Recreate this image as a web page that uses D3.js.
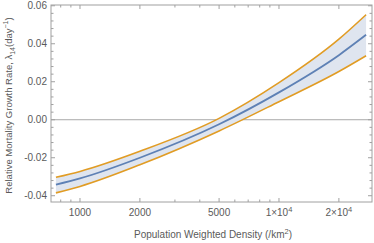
<!DOCTYPE html>
<html>
<head>
<meta charset="utf-8">
<script src="https://cdn.jsdelivr.net/npm/d3@7"></script>
<style>
body { margin: 0; background: #fff; }
text { font-family: "Liberation Sans", Arial, sans-serif; }
</style>
</head>
<body>
<div id="chart"></div>
<script>
var w = 374;
var h = 243;

// values
var density = [757, 1000, 2000, 5000, 10000, 20000, 27400];
var rateMid = [-0.0342, -0.0309, -0.0200, -0.0024, 0.0144, 0.0340, 0.0447];
var rateLow = [-0.0385, -0.0351, -0.0237, -0.0059, 0.0095, 0.0254, 0.0337];
var rateHigh = [-0.0303, -0.0272, -0.0166, 0.0007, 0.0195, 0.0424, 0.0553];

var xTicks = [1000, 2000, 5000, 10000, 20000];
var xTickLabels = ["1000", "2000", "5000", "1×10|4", "2×10|4"];
var xMinor = [800, 900, 3000, 4000, 6000, 7000, 8000, 9000];
var yTicks = [-0.04, -0.02, 0.00, 0.02, 0.04, 0.06];
var yTickLabels = ["-0.04", "-0.02", "0.00", "0.02", "0.04", "0.06"];

var pLeft = 51, pRight = 372, pTop = 5, pBottom = 202;
var frameColor = "#a0a0a0";
var textColor = "#5a5a5a";

var x = d3.scaleLog().domain([715, 29340]).range([pLeft, pRight]);
var y = d3.scaleLinear().domain([-0.0433, 0.0604]).range([pBottom, pTop]);

var svg = d3.select("#chart").append("svg")
  .attr("width", w)
  .attr("height", h);

var rows = density.map(function(d, i) {
  return { d: d, lo: rateLow[i], mid: rateMid[i], hi: rateHigh[i] };
});

// zero line
svg.append("line")
  .attr("x1", pLeft).attr("x2", pRight)
  .attr("y1", y(0)).attr("y2", y(0))
  .attr("stroke", "#a8a8a8")
  .attr("stroke-width", 1);

// band between the bounds
var area = d3.area()
  .x(function(d) { return x(d.d); })
  .y0(function(d) { return y(d.lo); })
  .y1(function(d) { return y(d.hi); })
  .curve(d3.curveMonotoneX);

svg.append("path")
  .datum(rows)
  .attr("d", area)
  .attr("fill", "#dfe5ef");

function drawLine(key, color, width) {
  var line = d3.line()
    .x(function(d) { return x(d.d); })
    .y(function(d) { return y(d[key]); })
    .curve(d3.curveMonotoneX);
  svg.append("path")
    .datum(rows)
    .attr("d", line)
    .attr("fill", "none")
    .attr("stroke", color)
    .attr("stroke-width", width);
}
drawLine("lo", "#e19c24", 1.6);
drawLine("hi", "#e19c24", 1.6);
drawLine("mid", "#5e81b5", 1.8);

// frame
svg.append("rect")
  .attr("x", pLeft).attr("y", pTop)
  .attr("width", pRight - pLeft).attr("height", pBottom - pTop)
  .attr("fill", "none")
  .attr("stroke", frameColor)
  .attr("stroke-width", 1);

// y ticks (inside, both sides)
var yMinor = d3.range(-0.04, 0.0601, 0.004).filter(function(v) {
  return Math.abs(Math.round(v / 0.02) * 0.02 - v) > 1e-6;
});
yTicks.forEach(function(v) {
  [[pLeft, 4], [pRight, -4]].forEach(function(s) {
    svg.append("line")
      .attr("x1", s[0]).attr("x2", s[0] + s[1])
      .attr("y1", y(v)).attr("y2", y(v))
      .attr("stroke", frameColor);
  });
});
yMinor.forEach(function(v) {
  [[pLeft, 2.5], [pRight, -2.5]].forEach(function(s) {
    svg.append("line")
      .attr("x1", s[0]).attr("x2", s[0] + s[1])
      .attr("y1", y(v)).attr("y2", y(v))
      .attr("stroke", frameColor);
  });
});
svg.selectAll(".ylab")
  .data(yTicks)
  .enter()
  .append("text")
  .attr("class", "ylab")
  .attr("x", pLeft - 4)
  .attr("y", function(d) { return y(d) + 3.5; })
  .attr("text-anchor", "end")
  .attr("font-size", "10px")
  .attr("fill", textColor)
  .text(function(d, i) { return yTickLabels[i]; });

// x ticks (inside, top and bottom)
xTicks.forEach(function(v) {
  [[pBottom, -4], [pTop, 4]].forEach(function(s) {
    svg.append("line")
      .attr("x1", x(v)).attr("x2", x(v))
      .attr("y1", s[0]).attr("y2", s[0] + s[1])
      .attr("stroke", frameColor);
  });
});
xMinor.forEach(function(v) {
  [[pBottom, -2.5], [pTop, 2.5]].forEach(function(s) {
    svg.append("line")
      .attr("x1", x(v)).attr("x2", x(v))
      .attr("y1", s[0]).attr("y2", s[0] + s[1])
      .attr("stroke", frameColor);
  });
});
xTicks.forEach(function(v, i) {
  var parts = xTickLabels[i].split("|");
  var t = svg.append("text")
    .attr("x", x(v))
    .attr("y", pBottom + 14)
    .attr("text-anchor", "middle")
    .attr("font-size", "10px")
    .attr("fill", textColor);
  t.append("tspan").text(parts[0]);
  if (parts[1]) {
    t.append("tspan").attr("dy", -4).attr("font-size", "7.5px").text(parts[1]);
  }
});

// axis titles
var xt = svg.append("text")
  .attr("x", 213)
  .attr("y", 238)
  .attr("text-anchor", "middle")
  .attr("font-size", "10px")
  .attr("fill", textColor);
xt.append("tspan").text("Population Weighted Density (/km");
xt.append("tspan").attr("dy", -4).attr("font-size", "7.5px").text("2");
xt.append("tspan").attr("dy", 4).text(")");

var yt = svg.append("text")
  .attr("transform", "translate(12," + (pTop + (pBottom - pTop) / 2 + 2) + ") rotate(-90)")
  .attr("text-anchor", "middle")
  .attr("font-size", "9.5px")
  .attr("fill", textColor);
yt.append("tspan").text("Relative Mortality Growth Rate, λ");
yt.append("tspan").attr("dy", 2.5).attr("font-size", "7px").text("14");
yt.append("tspan").attr("dy", -2.5).text("(day");
yt.append("tspan").attr("dy", -4).attr("font-size", "7px").text("−1");
yt.append("tspan").attr("dy", 4).text(")");
</script>
</body>
</html>
